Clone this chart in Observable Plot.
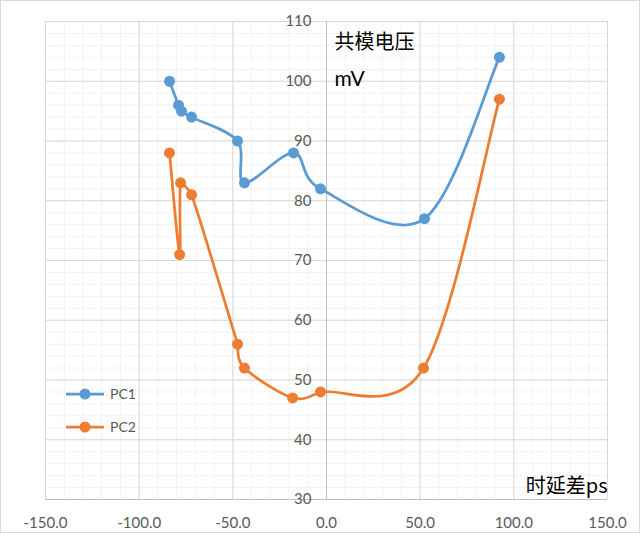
<!DOCTYPE html>
<html>
<head>
<meta charset="utf-8">
<script src="https://cdn.jsdelivr.net/npm/d3@7"></script>
<script src="https://cdn.jsdelivr.net/npm/@observablehq/plot@0.6"></script>
<style>
  html, body { margin: 0; padding: 0; background: #ffffff; }
  #wrap { position: relative; width: 640px; height: 536px; overflow: hidden; background: #d9d9d9; }
  #chart { position: absolute; left: 0; top: 0; }
  #border { position: absolute; left: 0; top: 0; width: 638px; height: 531px; border: 1px solid #d9d9d9; pointer-events: none; }
  #legend { position: absolute; left: 60px; top: 377px; font-family: Lato, "Noto Sans", sans-serif; font-size: 14px; color: #595959; }
  .item { position: relative; height: 33px; display: flex; align-items: center; }
  .item span { margin-left: 4px; }
</style>
</head>
<body>
<div id="wrap">
  <div id="chart"></div>
  <div id="border"></div>
  <div id="legend"></div>
</div>
<script>
// Data
const seriesNames = ["PC1", "PC2"];
const seriesColors = ["#5B9BD5", "#ED7D31"];

const pc1X = [-83.8, -79.0, -77.4, -72.0, -47.5, -43.8, -17.6, -3.2, 52.3, 92.3];
const pc1Y = [100, 96, 95, 94, 90, 83, 88, 82, 77, 104];

const pc2X = [-83.8, -78.4, -77.9, -72.0, -47.5, -43.8, -18.1, -3.2, 51.8, 92.3];
const pc2Y = [88, 71, 83, 81, 56, 52, 47, 48, 52, 97];

// Axis ticks
const xTicks = [-150, -100, -50, 0, 50, 100, 150];
const yTicks = [30, 40, 50, 60, 70, 80, 90, 100, 110];
const xMinor = d3.range(-150, 151, 10);
const yMinor = d3.range(30, 111, 2);

const yTitle = ["共模电压", "mV"];
const xTitle = "时延差ps";

const data = [
  ...pc1X.map((x, i) => ({series: "PC1", x, y: pc1Y[i]})),
  ...pc2X.map((x, i) => ({series: "PC2", x, y: pc2Y[i]}))
];

// Spreadsheet-style smoothed line: Catmull-Rom Bezier with tangents
// shortened next to very short segments (avoids loops / spikes).
function smoothCurve(context) {
  let pts = [];
  return {
    areaStart() {}, areaEnd() {},
    lineStart() { pts = []; },
    point(x, y) { pts.push([+x, +y]); },
    lineEnd() {
      const n = pts.length;
      if (!n) return;
      context.moveTo(pts[0][0], pts[0][1]);
      if (n === 1) return;
      const P = i => pts[Math.max(0, Math.min(n - 1, i))];
      const dist = (a, b) => Math.hypot(a[0] - b[0], a[1] - b[1]);
      const scale = r => (r < 0.3 ? r : 1);
      for (let i = 0; i < n - 1; i++) {
        const p0 = P(i - 1), p1 = P(i), p2 = P(i + 1), p3 = P(i + 2);
        const t1 = [(p2[0] - p0[0]) / 6, (p2[1] - p0[1]) / 6];
        const t2 = [(p3[0] - p1[0]) / 6, (p3[1] - p1[1]) / 6];
        const dIn1 = dist(p0, p1), dOut1 = dist(p1, p2);
        const dIn2 = dist(p1, p2), dOut2 = dist(p2, p3);
        const s1 = dIn1 > 0 ? scale(dOut1 / dIn1) : 1;
        const s2 = dOut2 > 0 ? scale(dIn2 / dOut2) : 1;
        context.bezierCurveTo(
          p1[0] + t1[0] * s1, p1[1] + t1[1] * s1,
          p2[0] - t2[0] * s2, p2[1] - t2[1] * s2,
          p2[0], p2[1]);
      }
    }
  };
}

const latin = "Lato, 'Noto Sans', sans-serif";
const cjk = "'Noto Sans CJK SC', 'Noto Sans', sans-serif";

const chart = Plot.plot({
  width: 640,
  height: 536,
  marginLeft: 45,
  marginRight: 33,
  marginTop: 21,
  marginBottom: 37,
  style: {background: "#ffffff", fontFamily: latin},
  x: {domain: [-150, 150], axis: null},
  y: {domain: [30, 110], axis: null},
  color: {domain: seriesNames, range: seriesColors},
  marks: [
    Plot.ruleX(xMinor, {stroke: "#f2f2f2", strokeWidth: 1}),
    Plot.ruleY(yMinor, {stroke: "#f2f2f2", strokeWidth: 1}),
    Plot.ruleX(xTicks, {stroke: "#d9d9d9", strokeWidth: 1}),
    Plot.ruleY(yTicks, {stroke: "#d9d9d9", strokeWidth: 1}),
    Plot.ruleX([0], {stroke: "#bfbfbf", strokeWidth: 1}),
    Plot.ruleY([30], {stroke: "#bfbfbf", strokeWidth: 1}),
    Plot.text(yTicks, {x: 0, y: d => d, text: d => String(d), textAnchor: "end", dx: -15, fill: "#595959", fontSize: 15, fontFamily: latin}),
    Plot.text(xTicks, {x: d => d, y: 30, text: d => d.toFixed(1), dy: 24, fill: "#595959", fontSize: 15, fontFamily: latin}),
    Plot.line(data, {x: "x", y: "y", z: "series", stroke: "series", strokeWidth: 2.75, curve: smoothCurve}),
    Plot.dot(data, {x: "x", y: "y", fill: "series", r: 5.5}),
    Plot.text([yTitle[0]], {x: 0, y: 110, text: d => d, textAnchor: "start", lineAnchor: "bottom", dx: 8, dy: 27, fontSize: 20, fill: "#000000", fontFamily: cjk}),
    Plot.text([yTitle[1]], {x: 0, y: 110, text: d => d, textAnchor: "start", lineAnchor: "bottom", dx: 8, dy: 64, fontSize: 21, fill: "#000000", fontFamily: latin}),
    Plot.text([xTitle], {frameAnchor: "bottom-right", text: d => d, textAnchor: "end", lineAnchor: "middle", dy: -13, fontSize: 20, fill: "#000000", fontFamily: cjk})
  ]
});
document.getElementById("chart").appendChild(chart);

// Legend
const legend = document.getElementById("legend");
seriesNames.forEach((name, i) => {
  const item = document.createElement("div");
  item.className = "item";
  item.innerHTML = `<svg width="46" height="14"><line x1="6" y1="7" x2="44" y2="7" stroke="${seriesColors[i]}" stroke-width="2.75"/><circle cx="25" cy="7" r="5.5" fill="${seriesColors[i]}"/></svg><span>${name}</span>`;
  legend.appendChild(item);
});
</script>
</body>
</html>
